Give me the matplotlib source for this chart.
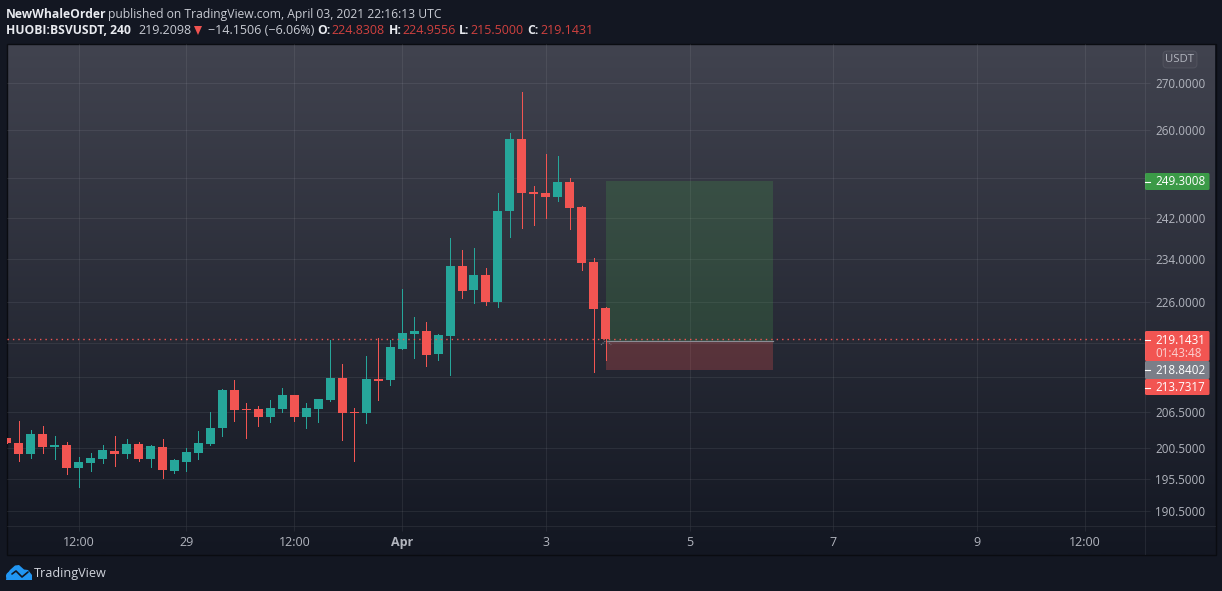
import numpy as np
import matplotlib
matplotlib.use("Agg")
import matplotlib.pyplot as plt
from matplotlib.patches import Rectangle, FancyBboxPatch, Polygon, Circle
from matplotlib.ticker import NullLocator

# 4h candles, first one is cut off by the left edge
opens = [202.18, 201.36, 199.56, 202.84, 200.70, 201.03, 197.28, 198.09, 198.74, 200.05,
         199.56, 201.19, 198.74, 200.70, 196.80, 198.26, 199.72, 201.19, 203.83, 210.25,
         207.02, 207.02, 205.67, 207.02, 209.39, 205.67, 207.02, 208.54, 212.32, 206.51,
         206.35, 212.14, 211.97, 217.41, 220.08, 220.62, 216.52, 219.73, 232.64, 228.13,
         230.93, 225.90, 243.32, 258.05, 247.13, 246.93, 246.12, 249.15, 244.12, 233.40,
         224.8308]
highs = [202.18, 205.00, 203.50, 204.17, 202.51, 201.52, 199.07, 199.72, 201.03, 202.51,
         202.02, 201.52, 201.03, 202.02, 198.74, 200.54, 203.33, 206.51, 210.42, 211.97,
         208.03, 207.52, 208.54, 210.59, 209.39, 208.03, 208.71, 219.01, 214.76, 207.18,
         216.17, 219.37, 219.01, 228.31, 223.15, 222.25, 220.08, 238.02, 235.70, 236.08,
         232.26, 246.93, 259.31, 268.14, 248.35, 254.91, 254.49, 249.96, 244.32, 234.16,
         224.9556]
lows = [201.36, 198.42, 198.91, 199.72, 198.74, 196.32, 194.25, 196.80, 198.09, 197.61,
        198.91, 198.42, 197.44, 195.68, 196.48, 196.80, 198.74, 201.03, 202.51, 205.00,
        202.18, 204.17, 204.83, 206.51, 205.00, 203.83, 204.83, 208.37, 201.85, 198.42,
        204.67, 208.54, 211.11, 217.41, 215.82, 214.41, 215.46, 212.84, 226.64, 225.71,
        225.34, 224.98, 238.21, 239.97, 240.56, 241.94, 245.32, 239.77, 231.88, 213.36,
        215.5000]
closes = [201.36, 199.56, 202.84, 200.70, 201.03, 197.28, 198.26, 198.91, 200.21, 199.56,
          201.19, 198.74, 200.87, 196.96, 198.58, 199.88, 201.36, 203.83, 210.25, 206.85,
          206.85, 205.67, 207.18, 209.39, 205.67, 207.18, 208.71, 212.32, 206.35, 206.35,
          212.14, 211.80, 217.76, 220.26, 220.62, 216.35, 219.91, 232.64, 227.94, 230.93,
          225.90, 243.32, 258.05, 246.93, 246.73, 246.12, 249.15, 243.92, 233.21, 224.61,
          219.1431]
candle_idx = list(range(-1, 50))

price_ticks = [190.5, 195.5, 200.5, 206.5, 212.5, 218.5, 226, 234, 242, 250, 260, 270]
price_labels = ["190.5000", "195.5000", "200.5000", "206.5000", "", "", "226.0000",
                "234.0000", "242.0000", "", "260.0000", "270.0000"]
time_ticks = [5, 14, 23, 32, 44, 56, 68, 80, 89]
time_labels = ["12:00", "29", "12:00", "Apr", "3", "5", "7", "9", "12:00"]

last_close = 219.1431
entry = 218.8402
target = 249.3008
stop = 213.7317
box_start, box_end = 49, 63

BG = "#131722"
UP = "#26a69a"
DOWN = "#f25552"
TEXT = "#b2b5be"
GRID_RGB = (0.94, 0.95, 0.98)
GRID = GRID_RGB + (0.075,)
FONT = "Open Sans"

plt.rcParams["font.family"] = [FONT, "DejaVu Sans"]

fig = plt.figure(figsize=(12.22, 5.91), dpi=100, facecolor=BG)
W, H = 1222, 591


def pixel_axes(z):
    a = fig.add_axes([0, 0, 1, 1], zorder=z)
    a.set_xlim(0, W)
    a.set_ylim(H, 0)
    a.axis("off")
    return a


# gradient behind the whole chart block
back = pixel_axes(0)
grad = np.linspace(0, 1, 256)[:, None, None]
top_col = np.array([0x41, 0x43, 0x4f]) / 255
bot_col = np.array([0x13, 0x17, 0x22]) / 255
back.imshow(top_col * (1 - grad) + bot_col * grad, extent=(7, 1215, 554, 44),
            aspect="auto", interpolation="bilinear")
back.set_xlim(0, W)
back.set_ylim(H, 0)
back.add_patch(Rectangle((6.5, 43.5), 1209, 511, fill=False, ec="#0a0c11", lw=1.0))

# price pane
ax = fig.add_axes([7 / W, 1 - 526 / H, (1145 - 7) / W, (526 - 44) / H], zorder=1)
ax.patch.set_visible(False)
ax.set_yscale("log")
ax.set_xlim(-0.98, 94.01)
ax.set_ylim(188.19, 278.84)
for s in ax.spines.values():
    s.set_visible(False)

ax.yaxis.tick_right()
ax.set_yticks(price_ticks)
ax.set_yticklabels(price_labels)
ax.yaxis.set_minor_locator(NullLocator())
ax.set_xticks(time_ticks)
ax.set_xticklabels(time_labels)
ax.tick_params(axis="y", length=3.6, width=0.72, color=GRID, labelcolor=TEXT,
               labelsize=8.4, pad=3.6)
ax.tick_params(axis="x", length=3.6, width=0.72, color=GRID, labelcolor=TEXT,
               labelsize=9, pad=3.5)
ax.get_xticklabels()[3].set_fontweight("bold")
ax.grid(True, color=GRID_RGB, alpha=0.075, lw=0.8, zorder=0)
ax.set_axisbelow(True)

# long position box
ax.fill_between([box_start, box_end], entry, target, color="#4caf50", alpha=0.2, lw=0, zorder=1)
ax.fill_between([box_start, box_end], stop, entry, color="#f25552", alpha=0.25, lw=0, zorder=1)
ax.plot([box_start, box_end], [entry, entry], color="#8a8d96", lw=0.9, zorder=1.5)

# candles
o = np.array(opens)
c = np.array(closes)
colors = [UP if b >= a else DOWN for a, b in zip(o, c)]
ax.vlines(candle_idx, lows, highs, colors=colors, lw=0.72, antialiased=False, zorder=3)
ax.bar(candle_idx, np.abs(c - o), bottom=np.minimum(o, c), width=0.75, color=colors,
       lw=0, antialiased=False, zorder=3)

# last price line
ax.axhline(last_close, color=DOWN, lw=1.0, ls=(0, (1, 2.9)), zorder=4)
# little entry marker under the last candle
ax.plot([48.6, 48.95], [218.15, 218.8], color="#787b86", lw=0.8, ls=(0, (1, 1)), zorder=2)
ax.plot([49.15, 49.45], [218.8, 218.15], color="#787b86", lw=0.8, ls=(0, (1, 1)), zorder=2)

# overlay in pixel units: headers, tags, logo
top = pixel_axes(2)
top.plot([1145, 1145], [44, 554], color=GRID, lw=0.8)
top.plot([7, 1215], [526, 526], color=GRID, lw=0.8)

top.text(6, 14.5, "NewWhaleOrder", color="#e8eaef", fontsize=8.7, fontweight="bold", va="center")
top.text(107.5, 14.5, "published on TradingView.com, April 03, 2021 22:16:13 UTC",
         color="#c8cbd3", fontsize=8.7, va="center")
top.text(6, 30, "HUOBI:BSVUSDT, 240", color="#e8eaef", fontsize=8.7, fontweight="bold", va="center")
top.text(138, 30, "219.2098", color="#c8cbd3", fontsize=9, va="center")
top.add_patch(Polygon([(194, 26), (202, 26), (198, 35)], color="#ef5350", lw=0))
top.text(208, 30, "\u221214.1506 (\u22126.06%)", color="#c8cbd3", fontsize=9, va="center")
for x, lab in [(317, "O:"), (389, "H:"), (459, "L:"), (527, "C:")]:
    top.text(x, 30, lab, color="#e8eaef", fontsize=8.7, fontweight="bold", va="center")
for x, val in [(331, "224.8308"), (402, "224.9556"), (470, "215.5000"), (540, "219.1431")]:
    top.text(x, 30, val, color="#d0413f", fontsize=9, va="center")


def tag(y0, y1, face, lines):
    top.add_patch(FancyBboxPatch((1145, y0), 64.5, y1 - y0, boxstyle="round,pad=0,rounding_size=1.5",
                                 fc=face, ec="none", lw=0))
    top.plot([1145, 1150], [lines[0][0]] * 2, color="white", lw=0.8)
    for y, s, col in lines:
        top.text(1155, y, s, color=col, fontsize=8.4, va="center")


tag(173, 190, "#3b9a47", [(181.5, "249.3008", "white")])
tag(379, 395, DOWN, [(387.5, "213.7317", "white")])
tag(331, 361, DOWN, [(340, "219.1431", "white"), (353.5, "01:43:48", "#fbd0cf")])
tag(361, 379, "#7b7e88", [(370, "218.8402", "white")])

top.add_patch(FancyBboxPatch((1163, 51), 34, 17, boxstyle="round,pad=0,rounding_size=4",
                             fc=(1, 1, 1, 0.03), ec=(1, 1, 1, 0.07), lw=0.8))
top.text(1180, 59.5, "USDT", color=TEXT, fontsize=8.2, ha="center", va="center", fontweight="medium")

# cloud logo
LOGO = "#2196f3"
top.add_patch(Polygon([(7, 574), (10, 570), (15, 565.5), (19, 565), (24, 569.5), (28, 570),
                       (32, 575), (32, 580), (6, 580)], color=LOGO, lw=0))
top.add_patch(Circle((10, 576), 4, color=LOGO, lw=0))
top.plot([12, 16, 22, 28], [574, 571, 577, 572], color=BG, lw=1.2, solid_capstyle="round")
top.text(34, 573, "TradingView", color="#d1d4dc", fontsize=9.1, va="center")

fig.savefig("out.png", dpi=100, facecolor=BG)
